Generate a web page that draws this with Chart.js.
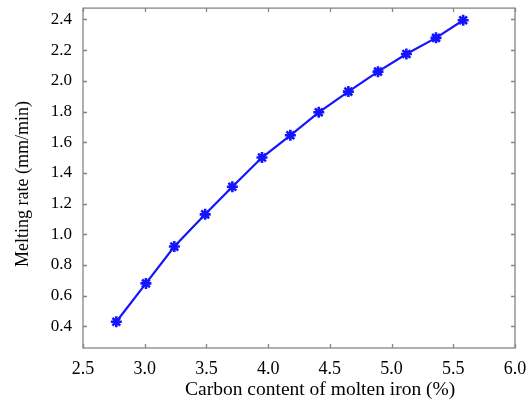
<!DOCTYPE html>
<html>
<head>
<meta charset="utf-8">
<script src="https://cdn.jsdelivr.net/npm/chart.js@4"></script>
<style>
  html, body { margin: 0; padding: 0; background: #fff; }
  #wrap { width: 529px; height: 406px; }
</style>
</head>
<body>
<div id="wrap"><canvas id="c" width="529" height="406"></canvas></div>
<script>
// Carbon content of molten iron (%) and the corresponding melting rate (mm/min)
const carbon = [2.77, 3.01, 3.24, 3.49, 3.71, 3.95, 4.18, 4.41, 4.65, 4.89, 5.12, 5.36, 5.58];
const meltRate = [0.43, 0.68, 0.92, 1.13, 1.31, 1.50, 1.645, 1.795, 1.93, 2.06, 2.175, 2.28, 2.395];

const xTicks = [2.5, 3.0, 3.5, 4.0, 4.5, 5.0, 5.5, 6.0];
const yTicks = [0.4, 0.6, 0.8, 1.0, 1.2, 1.4, 1.6, 1.8, 2.0, 2.2, 2.4];

const xTitle = 'Carbon content of molten iron (%)';
const yTitle = 'Melting rate (mm/min)';

const points = carbon.map((x, i) => ({ x, y: meltRate[i] }));

// Box frame with short inward tick marks on all four sides, plus axis titles
const framePlugin = {
  id: 'frame',
  afterDraw(chart) {
    const { ctx, chartArea: a, scales } = chart;
    const len = 4;
    ctx.save();
    ctx.strokeStyle = '#858585';
    ctx.lineWidth = 1.3;
    ctx.strokeRect(a.left, a.top, a.right - a.left, a.bottom - a.top);
    ctx.beginPath();
    xTicks.forEach(v => {
      const px = Math.round(scales.x.getPixelForValue(v)) + 0.5;
      ctx.moveTo(px, a.bottom); ctx.lineTo(px, a.bottom - len);
      ctx.moveTo(px, a.top); ctx.lineTo(px, a.top + len);
    });
    yTicks.forEach(v => {
      const py = Math.round(scales.y.getPixelForValue(v)) + 0.5;
      ctx.moveTo(a.left, py); ctx.lineTo(a.left + len, py);
      ctx.moveTo(a.right, py); ctx.lineTo(a.right - len, py);
    });
    ctx.stroke();

    ctx.fillStyle = '#000';
    ctx.textAlign = 'center';
    ctx.textBaseline = 'middle';
    ctx.font = '19.5px "Liberation Serif"';
    ctx.fillText(xTitle, a.left + (a.right - a.left) * 0.549, 390);
    ctx.translate(23, 184);
    ctx.rotate(-Math.PI / 2);
    ctx.font = '18px "Liberation Serif"';
    ctx.fillText(yTitle, 0, 0);
    ctx.restore();
  }
};

new Chart(document.getElementById('c'), {
  type: 'line',
  data: {
    datasets: [{
      data: points,
      borderColor: '#1414ff',
      backgroundColor: '#1414ff',
      borderWidth: 2.2,
      pointStyle: 'star',
      pointRadius: 5.5,
      pointBorderWidth: 2.6,
      pointBorderColor: '#1414ff',
      tension: 0,
      fill: false
    }]
  },
  options: {
    responsive: false,
    animation: false,
    layout: { padding: { top: 2, right: 14, left: 0, bottom: 0 } },
    plugins: { legend: { display: false }, tooltip: { enabled: false } },
    scales: {
      x: {
        type: 'linear',
        min: 2.5, max: 6.0,
        afterBuildTicks: s => { s.ticks = xTicks.map(v => ({ value: v })); },
        afterFit: s => { s.height = 58; s.paddingLeft = 0; s.paddingRight = 0; },
        grid: { display: false },
        border: { display: false },
        ticks: {
          color: '#000',
          padding: 2,
          maxRotation: 0,
          font: { family: 'Liberation Serif', size: 18 },
          callback: v => v.toFixed(1)
        }
      },
      y: {
        type: 'linear',
        min: 0.259, max: 2.474,
        afterBuildTicks: s => { s.ticks = yTicks.map(v => ({ value: v })); },
        afterFit: s => { s.width = 83; s.paddingTop = 0; s.paddingBottom = 0; },
        grid: { display: false },
        border: { display: false },
        ticks: {
          color: '#000',
          padding: 3,
          font: { family: 'Liberation Serif', size: 17 },
          callback: v => v.toFixed(1)
        }
      }
    }
  },
  plugins: [framePlugin]
});
</script>
</body>
</html>
